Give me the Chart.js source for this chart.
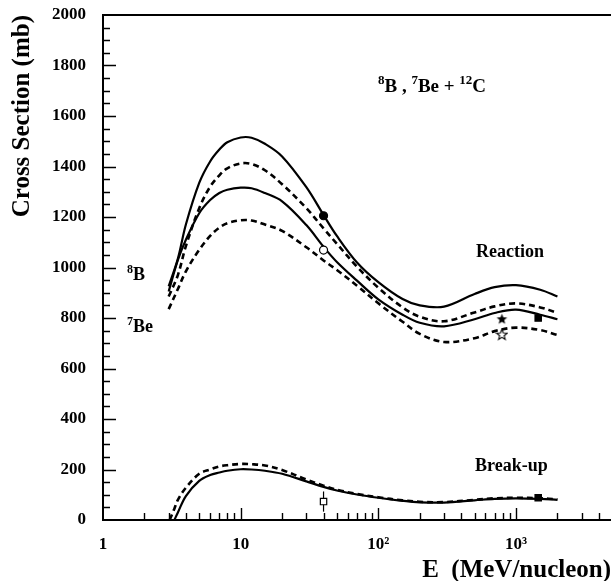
<!DOCTYPE html>
<html>
<head>
<meta charset="utf-8">
<script src="https://cdn.jsdelivr.net/npm/chart.js@4.4.1/dist/chart.umd.min.js"></script>
<style>
  body { margin: 0; background: #fff; }
</style>
</head>
<body>
<canvas id="xsec" width="611" height="581"></canvas>
<script>
// energies (MeV/nucleon) for the reaction curves
const energy = [3, 3.5, 4, 5, 6, 7, 8, 10, 12, 15, 20, 30, 40, 50, 70, 100, 150, 200, 300, 500, 700, 1000, 1500, 2000];
const reaction8BSolid   = [925, 1035, 1170, 1335, 1420, 1467, 1496, 1515, 1514, 1490, 1440, 1318, 1208, 1125, 1020, 942, 875, 850, 845, 895, 922, 930, 912, 885];
const reaction8BDashed  = [885, 970, 1085, 1235, 1320, 1365, 1393, 1412, 1410, 1385, 1330, 1235, 1155, 1094, 1003, 920, 842, 805, 787, 822, 846, 858, 842, 820];
const reaction7BeSolid  = [905, 1030, 1110, 1215, 1267, 1295, 1308, 1316, 1314, 1295, 1262, 1168, 1082, 1022, 948, 874, 813, 781, 767, 795, 820, 833, 813, 795];
const reaction7BeDashed = [835, 915, 985, 1070, 1125, 1158, 1175, 1187, 1186, 1170, 1145, 1080, 1028, 990, 928, 858, 785, 737, 705, 720, 748, 762, 752, 733];

// break-up curves
const breakupEnergy = [3.05, 3.3, 3.5, 4, 5, 6, 7, 8, 10, 12, 15, 20, 30, 40, 50, 70, 100, 150, 200, 300, 500, 700, 1000, 1500, 2000];
const breakupSolid  = [null, 0, 30, 95, 155, 178, 188, 195, 201, 200, 195, 183, 153, 131, 117, 101, 88, 76, 70, 69, 78, 84, 86, 84, 80];
const breakupDashed = [0, 45, 80, 128, 183, 200, 212, 217, 222, 221, 216, 198, 160, 136, 120, 103, 90, 78, 72, 71, 80, 86, 88, 86, 82];

// measured points [E, sigma]
const filledCircle = [[40, 1205]];
const openCircle = [[40, 1069]];
const filledStar = [[790, 797]];
const openStar = [[790, 735]];
const filledSquare = [[1450, 800], [1450, 88]];
const openSquare = [[40, 73]];
const openSquareErr = [40];

const xTickText = { 0: '1', 1: '10', 2: '10²', 3: '10³' };
const serif = '"Liberation Serif", "Times New Roman", serif';

function pts(list) {
  return list.map(p => ({ x: p[0], y: p[1] }));
}

function curve(label, xs, ys, dashed) {
  return {
    type: 'line',
    label: label,
    data: xs.map((x, i) => ({ x: x, y: ys[i] })).filter(p => p.y !== null),
    borderColor: '#000',
    borderWidth: dashed ? 2.6 : 2.2,
    borderDash: dashed ? [6, 4] : [],
    pointRadius: 0,
    fill: false,
    tension: 0.35,
    order: 5
  };
}

function starImage(filled) {
  const c = document.createElement('canvas');
  c.width = 13; c.height = 13;
  const g = c.getContext('2d');
  g.beginPath();
  for (let i = 0; i < 10; i++) {
    const r = i % 2 ? 2.4 : 5.6;
    const a = -Math.PI / 2 + i * Math.PI / 5;
    g.lineTo(6.5 + r * Math.cos(a), 7 + r * Math.sin(a));
  }
  g.closePath();
  if (filled) {
    g.fillStyle = '#000';
    g.fill();
  } else {
    g.fillStyle = '#fff';
    g.fill();
    g.strokeStyle = '#000';
    g.lineWidth = 1.1;
    g.stroke();
  }
  return c;
}

function marker(label, list, style, bg, radius, img) {
  return {
    type: 'scatter',
    label: label,
    data: pts(list),
    pointStyle: img || style,
    pointRadius: radius,
    pointBackgroundColor: bg,
    pointBorderColor: '#000',
    pointBorderWidth: 1.2,
    order: 0
  };
}

// inward tick marks on both axes
const tickMarks = {
  id: 'tickMarks',
  afterDraw(chart) {
    const ctx = chart.ctx;
    const area = chart.chartArea;
    const x = chart.scales.x, y = chart.scales.y;
    ctx.save();
    ctx.strokeStyle = '#000';
    ctx.lineWidth = 1.4;
    ctx.beginPath();
    for (let v = 50; v < 2000; v += 50) {
      const py = Math.round(y.getPixelForValue(v)) + 0.5;
      const len = v % 200 === 0 ? 13 : 7;
      ctx.moveTo(area.left, py);
      ctx.lineTo(area.left + len, py);
    }
    for (let d = 0; d < 4; d++) {
      for (let k = 1; k <= 9; k++) {
        const v = k * Math.pow(10, d);
        if (v <= 1 || v > x.max) continue;
        const px = Math.round(x.getPixelForValue(v)) + 0.5;
        const len = k === 1 ? 12 : 7;
        ctx.moveTo(px, area.bottom);
        ctx.lineTo(px, area.bottom - len);
      }
    }
    ctx.stroke();
    ctx.restore();
  }
};

function richText(ctx, x, y, parts, size) {
  let cx = x;
  parts.forEach(([t, sup]) => {
    const s = sup ? Math.round(size * 0.66) : size;
    ctx.font = 'bold ' + s + 'px ' + serif;
    ctx.fillText(t, cx, sup ? y - size * 0.4 : y);
    cx += ctx.measureText(t).width;
  });
}

const labels = {
  id: 'labels',
  afterDraw(chart) {
    const ctx = chart.ctx;
    ctx.save();
    ctx.fillStyle = '#000';
    ctx.textBaseline = 'alphabetic';
    ctx.textAlign = 'left';
    richText(ctx, 378, 92, [['8', true], ['B , ', false], ['7', true], ['Be + ', false], ['12', true], ['C', false]], 19);
    richText(ctx, 127, 280, [['8', true], ['B', false]], 18);
    richText(ctx, 127, 332, [['7', true], ['Be', false]], 18);
    richText(ctx, 476, 257, [['Reaction', false]], 18);
    richText(ctx, 475, 471, [['Break-up', false]], 18);
    ctx.restore();
  }
};

function noPad(s) {
  s.paddingTop = 0;
  s.paddingBottom = 0;
  s.paddingLeft = 0;
  s.paddingRight = 0;
}

new Chart(document.getElementById('xsec'), {
  data: {
    datasets: [
      curve('8B reaction', energy, reaction8BSolid, false),
      curve('8B reaction (dashed)', energy, reaction8BDashed, true),
      curve('7Be reaction', energy, reaction7BeSolid, false),
      curve('7Be reaction (dashed)', energy, reaction7BeDashed, true),
      curve('break-up', breakupEnergy, breakupSolid, false),
      curve('break-up (dashed)', breakupEnergy, breakupDashed, true),
      {
        type: 'line',
        label: 'error',
        data: [{ x: openSquareErr[0], y: openSquare[0][1] - 40 }, { x: openSquareErr[0], y: openSquare[0][1] + 40 }],
        borderColor: '#000',
        borderWidth: 1.2,
        pointRadius: 0,
        order: 8
      },
      marker('filled circle', filledCircle, 'circle', '#000', 4),
      marker('open circle', openCircle, 'circle', '#fff', 4),
      marker('filled star', filledStar, 'star', '#000', 6, starImage(true)),
      marker('open star', openStar, 'star', '#fff', 6, starImage(false)),
      marker('filled square', filledSquare, 'rect', '#000', 4.5),
      marker('open square', openSquare, 'rect', '#fff', 4.5)
    ]
  },
  options: {
    responsive: false,
    animation: false,
    layout: { padding: 0, autoPadding: false },
    plugins: {
      legend: { display: false },
      tooltip: { enabled: false }
    },
    scales: {
      x: {
        type: 'logarithmic',
        position: 'bottom',
        min: 1,
        max: 4900,
        afterFit: s => { s.height = 61; noPad(s); },
        grid: { display: false, drawTicks: false },
        border: { display: true, color: '#000', width: 2 },
        ticks: {
          autoSkip: false,
          maxRotation: 0,
          padding: 14,
          color: '#000',
          font: { family: serif, size: 17, weight: 'bold' },
          callback: v => {
            const l = Math.log10(v);
            return Math.abs(l - Math.round(l)) < 1e-6 ? (xTickText[Math.round(l)] || '') : '';
          }
        },
        title: {
          display: true,
          text: 'E  (MeV/nucleon)',
          align: 'end',
          color: '#000',
          font: { family: serif, size: 25, weight: 'bold', lineHeight: 1 },
          padding: { top: 0, bottom: -2 }
        }
      },
      xTop: {
        type: 'logarithmic',
        position: 'top',
        min: 1,
        max: 4900,
        afterFit: s => { s.height = 15; noPad(s); },
        ticks: { display: false },
        grid: { display: false, drawTicks: false },
        border: { display: true, color: '#000', width: 2 }
      },
      y: {
        min: 0,
        max: 2000,
        afterFit: s => { s.width = 103; noPad(s); },
        grid: { display: false, drawTicks: false },
        border: { display: true, color: '#000', width: 2 },
        ticks: {
          stepSize: 200,
          padding: 17,
          color: '#000',
          font: { family: serif, size: 17, weight: 'bold' },
          callback: v => String(v)
        },
        title: {
          display: true,
          text: 'Cross Section (mb)',
          align: 'end',
          color: '#000',
          font: { family: serif, size: 25, weight: 'bold' },
          padding: { top: 8, bottom: 0 }
        }
      }
    }
  },
  plugins: [tickMarks, labels]
});
</script>
</body>
</html>
